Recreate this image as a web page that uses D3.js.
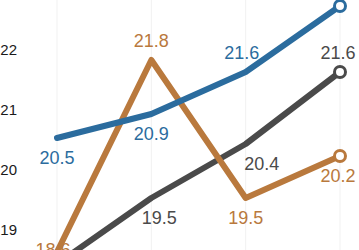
<!DOCTYPE html>
<html>
<head>
<meta charset="utf-8">
<script src="https://cdn.jsdelivr.net/npm/d3@7"></script>
<style>
  body { margin: 0; background: #fff; }
  svg { display: block; font-family: "Liberation Sans", Arial, sans-serif; }
</style>
</head>
<body>
<div id="chart"></div>
<script>
// data
const periods = ["P1", "P2", "P3", "P4"];
const blueValues = [20.5, 20.9, 21.6, 22.7];
const orangeValues = [18.6, 21.8, 19.5, 20.2];
const grayValues = [18.4, 19.5, 20.4, 21.6];
const yTicks = [19, 20, 21, 22];

const width = 359;
const height = 250;

const svg = d3.select("#chart")
    .append("svg")
    .attr("width", width)
    .attr("height", height);

const x = d3.scalePoint()
    .domain(periods)
    .range([57, 340]);

const y = d3.scaleLinear()
    .domain([19, 22])
    .range([228, 48]);

// faint vertical grid
svg.append("g")
    .selectAll("line")
    .data(periods)
    .enter().append("line")
    .attr("x1", (d) => x(d))
    .attr("x2", (d) => x(d))
    .attr("y1", 0)
    .attr("y2", height)
    .attr("stroke", "#f1f1f1")
    .attr("stroke-width", 1);

// y labels
const yAxis = d3.axisLeft(y).tickValues(yTicks).tickFormat(d3.format("d")).tickSize(0).tickPadding(0);
const ax = svg.append("g").attr("transform", "translate(17,2)").call(yAxis);
ax.select(".domain").remove();
ax.selectAll("text")
    .attr("font-size", 15)
    .attr("font-family", "Liberation Sans, Arial, sans-serif")
    .attr("fill", "#1a1a1a");

// series, drawn back to front; pos: 1 above, -1 below
const series = [
    { values: grayValues, color: "#4a4a4a", pos: [-1, -1, -1, 1], dx: [0, 8, 16, -2] },
    { values: orangeValues, color: "#b9793d", pos: [0, 1, -1, -1], dx: [-4, 0, 0, -2] },
    { values: blueValues, color: "#2b6c9e", pos: [-1, -1, 1, 1], dx: [0, 0, -4, 0] }
];

const line = d3.line()
    .x((d, i) => x(periods[i]))
    .y((d) => y(d));

series.forEach((s) => {
    const g = svg.append("g");

    g.append("path")
        .datum(s.values)
        .attr("d", line)
        .attr("fill", "none")
        .attr("stroke", s.color)
        .attr("stroke-width", 6)
        .attr("stroke-linecap", "round")
        .attr("stroke-linejoin", "round");

    const last = s.values.length - 1;
    g.append("circle")
        .attr("cx", x(periods[last]))
        .attr("cy", y(s.values[last]))
        .attr("r", 5.5)
        .attr("fill", "#fff")
        .attr("stroke", s.color)
        .attr("stroke-width", 3);

    g.selectAll("text")
        .data(s.values)
        .enter().append("text")
        .attr("x", (d, i) => x(periods[i]) + s.dx[i])
        .attr("y", (d, i) => y(d) + (s.pos[i] === 1 ? -13 : s.pos[i] === -1 ? 26 : 4))
        .attr("text-anchor", "middle")
        .attr("font-size", 18)
        .attr("fill", s.color)
        .text((d) => d3.format(".1f")(d));
});
</script>
</body>
</html>
